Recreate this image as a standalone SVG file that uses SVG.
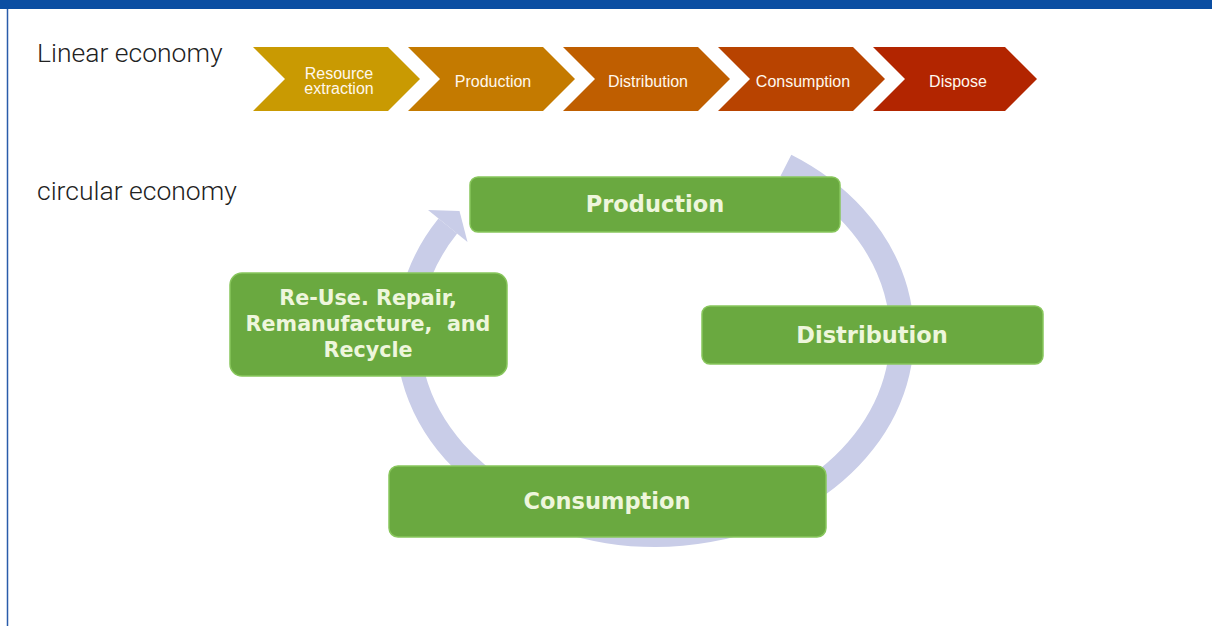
<svg xmlns="http://www.w3.org/2000/svg" width="1212" height="626" viewBox="0 0 1212 626">
  <style>
    .title { font-family: Roboto, "Liberation Sans", sans-serif; font-weight: 300; font-size: 26.5px; fill: #222222; }
    .chev-text { font-family: "Liberation Sans", Arial, sans-serif; font-size: 16px; fill: #fff8ee; text-anchor: middle; }
    .box { fill: #6aa940; stroke: #88c65c; stroke-width: 1.5; }
    .box-text { font-family: "DejaVu Sans", Verdana, sans-serif; font-weight: bold; font-size: 22.5px; fill: #eef6dc; text-anchor: middle; }
    .box-text-sm { font-size: 20.7px; }
    .ring { fill: none; stroke: #c9cde8; stroke-width: 24; stroke-linecap: butt; }
  </style>
  <defs>
    <polygon id="chev" points="0,0 135,0 167,32 135,64 0,64 32,32"/>
  </defs>

  <rect x="0" y="0" width="1212" height="626" fill="#ffffff"/>
  <rect x="0" y="0" width="1212" height="9" fill="#0b4ea2"/>
  <line x1="7.5" y1="9" x2="7.5" y2="626" stroke="#2a5caa" stroke-width="1.5"/>

  <text class="title" x="37" y="62">Linear economy</text>
  <text class="title" x="37" y="200">circular economy</text>

  <!-- Linear economy chevrons -->
  <g id="lin-resource">
    <use href="#chev" x="253" y="47" fill="#c99a02"/>
    <text class="chev-text" x="339" y="79">Resource</text>
    <text class="chev-text" x="339" y="94">extraction</text>
  </g>
  <g id="lin-production">
    <use href="#chev" x="408" y="47" fill="#c47a00"/>
    <text class="chev-text" x="493" y="87">Production</text>
  </g>
  <g id="lin-distribution">
    <use href="#chev" x="563" y="47" fill="#bf5e00"/>
    <text class="chev-text" x="648" y="87">Distribution</text>
  </g>
  <g id="lin-consumption">
    <use href="#chev" x="718" y="47" fill="#b84300"/>
    <text class="chev-text" x="803" y="87">Consumption</text>
  </g>
  <g id="lin-dispose">
    <polygon points="873,47 1005,47 1037,79 1005,111 873,111 905,79" fill="#b22500"/>
    <text class="chev-text" x="958" y="87">Dispose</text>
  </g>

  <!-- Circular economy cycle arrow -->
  <g id="connectors">
    <path class="ring" d="M 785.9 165.4 A 247 200 0 1 1 447.8 226.1"/>
    <polygon points="467.5,242 459.5,211 428,210" fill="#c9cde8"/>
  </g>

  <g id="node-production">
    <rect class="box" x="470" y="177" width="370" height="55" rx="8"/>
    <text class="box-text" x="655" y="212">Production</text>
  </g>
  <g id="node-distribution">
    <rect class="box" x="702" y="306" width="341" height="58" rx="8"/>
    <text class="box-text" x="872" y="343">Distribution</text>
  </g>
  <g id="node-consumption">
    <rect class="box" x="389" y="466" width="437" height="71" rx="9"/>
    <text class="box-text" x="607" y="509">Consumption</text>
  </g>
  <g id="node-reuse">
    <rect class="box" x="230" y="273" width="277" height="103" rx="12"/>
    <text class="box-text box-text-sm" x="368" y="305">Re-Use. Repair,</text>
    <text class="box-text box-text-sm" x="368" y="331" xml:space="preserve">Remanufacture,  and</text>
    <text class="box-text box-text-sm" x="368" y="357">Recycle</text>
  </g>
</svg>
